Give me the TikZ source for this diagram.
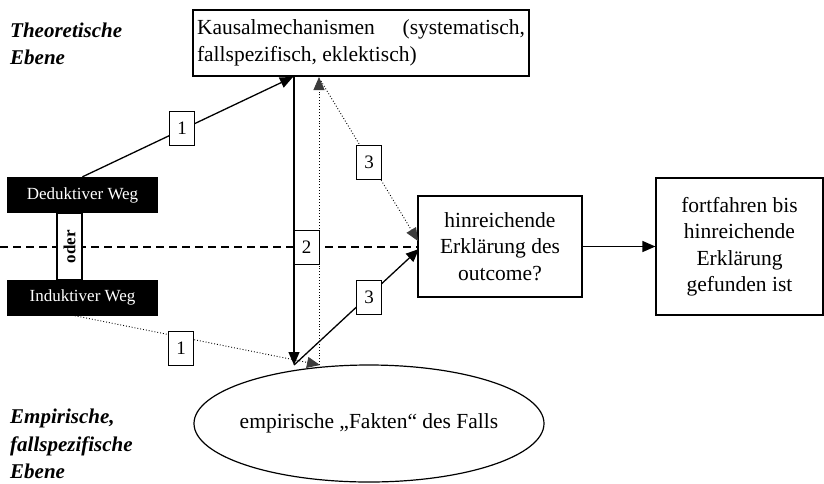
\documentclass[tikz,border=0pt]{standalone}
\usepackage{fontspec}
\setmainfont{Liberation Serif}
\usetikzlibrary{arrows.meta}
\definecolor{tipgray}{HTML}{3C3C3C}
\tikzset{
	box/.style={draw,line width=1.2pt,fill=white,font=\fontsize{21.5}{26.5}\selectfont},
	blackbox/.style={fill=black,text=white,minimum width=151,minimum height=36,inner sep=0pt,font=\fontsize{17}{20}\selectfont},
	numbox/.style={draw,line width=1pt,fill=white,minimum width=25,minimum height=34,inner sep=0pt,font=\fontsize{19}{20}\selectfont},
	ebene/.style={anchor=west,align=left,inner sep=0pt,font=\fontsize{21}{27.5}\selectfont\bfseries\itshape},
	pfeil/.style={line width=1.3pt,-{Triangle[length=13,width=11]}},
	punktpfeil/.style={line width=0.9pt,dotted,-{Triangle[length=13,width=11,color=tipgray]}}
}
\begin{document}
\begin{tikzpicture}[x=1pt,y=-1pt]
		\useasboundingbox (0,0) rectangle (824,483);
		% Ebenen
		\node[ebene] (theo) at (10,44) {Theoretische\\Ebene};
		\node[ebene] (emp) at (10,444) {Empirische,\\fallspezifische\\Ebene};
		% Knoten
		\node[box,text width=328,inner xsep=4,align=justify,minimum height=66] (kausal) at (361,43)
			{Kausalmechanismen (systematisch,\linebreak fallspezifisch, eklektisch)};
		\node[font=\fontsize{21.5}{26.5}\selectfont] (fakten) at (369,423.5) {empirische \char"201E Fakten\char"201C\ des Falls};
		\draw[line width=1.2pt] (fakten.center) ellipse [x radius=175, y radius=58.5];
		\node[box,align=center,minimum width=164,minimum height=101,inner sep=0pt] (erkl) at (500,246.5)
			{hinreichende\\Erklärung des\\outcome?};
		\node[box,align=center,minimum width=167,minimum height=137,inner sep=0pt] (weiter) at (739.5,246.5)
			{fortfahren bis\\hinreichende\\Erklärung\\gefunden ist};
		\coordinate (k1) at (293,77);
		\coordinate (k2) at (319,77);
		\coordinate (k3) at (321,81);
		\coordinate (f1) at (294,365);
		\coordinate (f2) at (319,365);
		\coordinate (f3) at (320,365);
		\coordinate (e1) at (418,241);
		\coordinate (e2) at (419,249);
		\coordinate (links) at (0,247);
		% Wege
		\node[blackbox] (dedukt) at (82.5,195) {Deduktiver Weg};
		\node[blackbox] (indukt) at (82.5,297.5) {Induktiver Weg};
		\draw[dashed,line width=1.2pt,dash pattern=on 8pt off 5pt] (links) -- (e1 |- links);
		\node[draw,line width=1.2pt,fill=white,minimum width=67,minimum height=25,inner sep=0pt,
			rotate=90,font=\fontsize{17}{20}\selectfont\bfseries] (oder) at (69.5,246.5) {oder};
		% Pfeile
		\draw[pfeil] (dedukt.north) -- (k1);
		\draw[pfeil] (kausal.south -| f1) -- (f1);
		\draw[punktpfeil] (f2) -- (k2);
		\draw[punktpfeil] (k3) -- (e1);
		\draw[pfeil] (f1) -- (e2);
		\draw[punktpfeil] (indukt.south west) ++(68,0) -- (f3);
		\draw[pfeil] (erkl.east) -- (weiter.west);
		% Nummern
		\node[numbox] (n1a) at (182,128) {1};
		\node[numbox] (n1b) at (181,348) {1};
		\node[numbox] (n2) at (306.5,247) {2};
		\node[numbox] (n3a) at (369,162) {3};
		\node[numbox] (n3b) at (369,297) {3};
\end{tikzpicture}
\end{document}
